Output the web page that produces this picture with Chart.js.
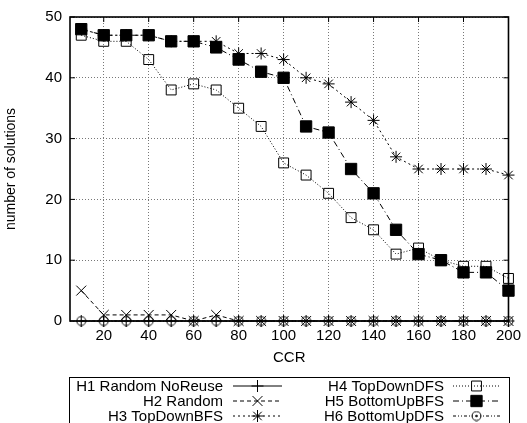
<!DOCTYPE html>
<html>
<head>
<meta charset="utf-8">
<script src="https://cdn.jsdelivr.net/npm/chart.js@4"></script>
<style>
  html, body { margin: 0; padding: 0; background: #fff; }
  #wrap { width: 527px; height: 423px; }
</style>
</head>
<body>
<div id="wrap"><canvas id="chart" width="527" height="423"></canvas></div>
<script>
// CCR values on the x axis
const ccr = [10, 20, 30, 40, 50, 60, 70, 80, 90, 100, 110, 120, 130, 140, 150, 160, 170, 180, 190, 200];
const xTicks = [20, 40, 60, 80, 100, 120, 140, 160, 180, 200];
const yTicks = [0, 10, 20, 30, 40, 50];

const labels = ['H1 Random NoReuse', 'H2 Random', 'H3 TopDownBFS', 'H4 TopDownDFS', 'H5 BottomUpBFS', 'H6 BottomUpDFS'];

// number of solutions per heuristic
const h1 = [0, 0, 0, 0, 0, 0, 0, 0, 0, 0, 0, 0, 0, 0, 0, 0, 0, 0, 0, 0];
const h2 = [5, 1, 1, 1, 1, 0, 1, 0, 0, 0, 0, 0, 0, 0, 0, 0, 0, 0, 0, 0];
const h3 = [48, 47, 47, 47, 46, 46, 46, 44, 44, 43, 40, 39, 36, 33, 27, 25, 25, 25, 25, 24];
const h4 = [47, 46, 46, 43, 38, 39, 38, 35, 32, 26, 24, 21, 17, 15, 11, 12, 10, 9, 9, 7];
const h5 = [48, 47, 47, 47, 46, 46, 45, 43, 41, 40, 32, 31, 25, 21, 15, 11, 10, 8, 8, 5];
const h6 = [0, 0, 0, 0, 0, 0, 0, 0, 0, 0, 0, 0, 0, 0, 0, 0, 0, 0, 0, 0];

const FONT = 'Liberation Sans, Arial, sans-serif';

// circle with a dot in the middle (gnuplot point type 6-ish)
function dotCircle() {
  const c = document.createElement('canvas');
  c.width = 11; c.height = 11;
  const g = c.getContext('2d');
  g.strokeStyle = '#000';
  g.lineWidth = 1;
  g.beginPath();
  g.arc(5.5, 5.5, 4.5, 0, Math.PI * 2);
  g.stroke();
  g.fillStyle = '#000';
  g.beginPath();
  g.arc(5.5, 5.5, 1, 0, Math.PI * 2);
  g.fill();
  return c;
}

function series(values) {
  return values.map((v, i) => ({ x: ccr[i], y: v }));
}

const styles = [
  { dash: [], pointStyle: 'cross', radius: 6, fill: 'rgba(0,0,0,0)' },
  { dash: [4, 3], pointStyle: 'crossRot', radius: 7, fill: 'rgba(0,0,0,0)' },
  { dash: [2, 3], pointStyle: 'star', radius: 6, fill: 'rgba(0,0,0,0)' },
  { dash: [1, 2], pointStyle: 'rect', radius: 7, fill: 'rgba(0,0,0,0)' },
  { dash: [6, 3, 1, 3], pointStyle: 'rect', radius: 8, fill: '#000' },
  { dash: [3, 2, 1, 2, 1, 2], pointStyle: dotCircle(), radius: 5, fill: 'rgba(0,0,0,0)' }
];

const allData = [h1, h2, h3, h4, h5, h6];

const datasets = allData.map((vals, i) => ({
  label: labels[i],
  data: series(vals),
  borderColor: '#000',
  borderWidth: 1,
  borderDash: styles[i].dash,
  pointStyle: styles[i].pointStyle,
  pointRadius: styles[i].radius,
  pointBorderColor: '#000',
  pointBackgroundColor: styles[i].fill,
  pointBorderWidth: 1,
  tension: 0,
  clip: false,
  order: 6 - i // later series on top, like gnuplot
}));

// box, tics and border of the plot
const framePlugin = {
  id: 'frame',
  beforeDatasetsDraw(chart) {
    const { ctx, chartArea: a, scales } = chart;
    ctx.save();
    ctx.strokeStyle = '#000';
    ctx.lineWidth = 1;
    ctx.setLineDash([]);
    ctx.beginPath();
    yTicks.forEach(v => {
      const y = scales.y.getPixelForValue(v);
      ctx.moveTo(a.left, y); ctx.lineTo(a.left + 5, y);
      ctx.moveTo(a.right, y); ctx.lineTo(a.right - 5, y);
    });
    xTicks.forEach(v => {
      const x = scales.x.getPixelForValue(v);
      ctx.moveTo(x, a.bottom); ctx.lineTo(x, a.bottom - 5);
      ctx.moveTo(x, a.top); ctx.lineTo(x, a.top + 5);
    });
    ctx.stroke();
    ctx.lineWidth = 1.6;
    ctx.strokeRect(a.left, a.top, a.right - a.left, a.bottom - a.top);
    ctx.restore();
  }
};

// gnuplot style key below the plot
const keyPlugin = {
  id: 'key',
  afterDraw(chart) {
    const ctx = chart.ctx;
    ctx.save();
    ctx.strokeStyle = '#000';
    ctx.lineWidth = 1;
    ctx.setLineDash([]);
    ctx.strokeRect(69.5, 377.5, 440, 60);

    const cols = [{ textRight: 223, lineFrom: 233, lineTo: 282 }, { textRight: 444, lineFrom: 453, lineTo: 500 }];
    const rows = [386, 401, 416];
    ctx.font = '15px ' + FONT;
    ctx.textAlign = 'right';
    ctx.textBaseline = 'middle';
    chart.data.datasets.forEach((ds, i) => {
      const col = cols[Math.floor(i / 3)];
      const y = rows[i % 3];
      ctx.fillStyle = '#000';
      ctx.fillText(ds.label, col.textRight, y + 1);
      ctx.beginPath();
      ctx.setLineDash(ds.borderDash);
      ctx.moveTo(col.lineFrom, y);
      ctx.lineTo(col.lineTo, y);
      ctx.stroke();
      ctx.setLineDash([]);
      ctx.fillStyle = ds.pointBackgroundColor;
      Chart.helpers.drawPoint(ctx, {
        pointStyle: ds.pointStyle,
        radius: ds.pointRadius,
        rotation: 0,
        borderWidth: 1
      }, (col.lineFrom + col.lineTo) / 2, y);
    });
    ctx.restore();
  }
};

const ctx = document.getElementById('chart').getContext('2d');
new Chart(ctx, {
  type: 'line',
  data: { datasets },
  options: {
    responsive: false,
    animation: false,
    devicePixelRatio: 1,
    layout: { padding: { left: 0, top: 15, right: 18, bottom: 0 } },
    scales: {
      x: {
        type: 'linear',
        min: 5,
        max: 200,
        afterBuildTicks: scale => { scale.ticks = xTicks.map(v => ({ value: v })); },
        afterFit: scale => { scale.height = 102; },
        grid: { color: '#777', lineWidth: 1, drawTicks: false, tickLength: 0 },
        border: { display: false, dash: [1, 2] },
        ticks: {
          autoSkip: false,
          maxRotation: 0,
          padding: 6,
          color: '#000',
          font: { family: FONT, size: 15 }
        },
        title: {
          display: true,
          text: 'CCR',
          color: '#000',
          font: { family: FONT, size: 15 },
          padding: { top: 0, bottom: 56 }
        }
      },
      y: {
        min: 0,
        max: 50,
        afterBuildTicks: scale => { scale.ticks = yTicks.map(v => ({ value: v })); },
        afterFit: scale => { scale.width = 70; },
        grid: { color: '#777', lineWidth: 1, drawTicks: false, tickLength: 0 },
        border: { display: false, dash: [1, 2] },
        ticks: {
          padding: 8,
          color: '#000',
          font: { family: FONT, size: 15 }
        },
        title: {
          display: true,
          text: 'number of solutions',
          color: '#000',
          font: { family: FONT, size: 14 },
          padding: { top: 3, bottom: 0 }
        }
      }
    },
    plugins: {
      legend: { display: false },
      tooltip: { enabled: false }
    }
  },
  plugins: [framePlugin, keyPlugin]
});
</script>
</body>
</html>
